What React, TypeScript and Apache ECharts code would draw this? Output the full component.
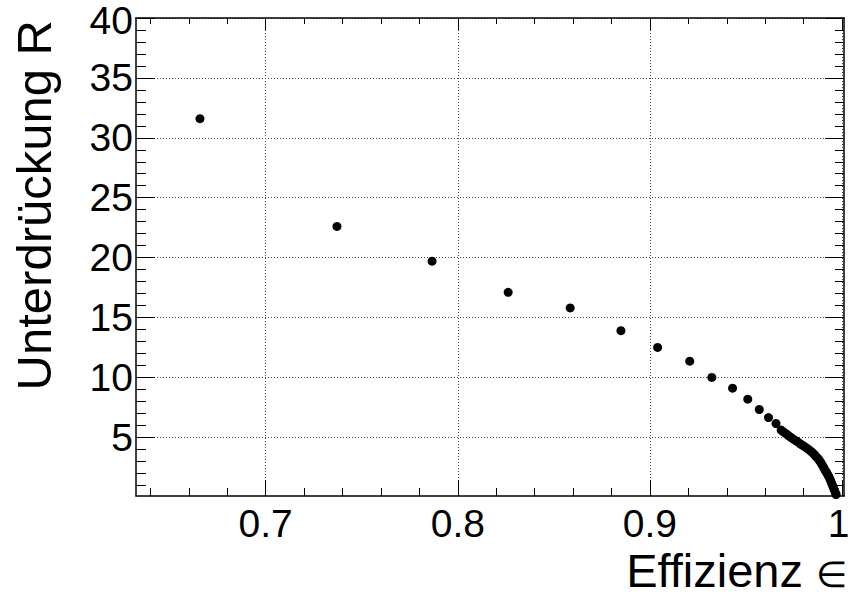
import React, { useEffect, useRef } from "react";
import * as echarts from "echarts";

// Efficiency (x) and suppression (y) values
const efficiency: number[] = [
  0.6658, 0.7371, 0.7866, 0.8262, 0.8585, 0.8849, 0.904, 0.9207, 0.9322, 0.943,
  0.9509, 0.9569, 0.9617, 0.9656, 0.9683, 0.9695, 0.9708, 0.972, 0.9733, 0.9746,
  0.9759, 0.9771, 0.9783, 0.9795, 0.9807, 0.9818, 0.9829, 0.984, 0.985, 0.9859,
  0.9867, 0.9875, 0.9883, 0.989, 0.9897, 0.9904, 0.9911, 0.9918, 0.9924, 0.993,
  0.9936, 0.9941, 0.9946, 0.9951, 0.9956, 0.9961, 0.9965, 0.9969,
];
const suppression: number[] = [
  31.6, 22.6, 19.7, 17.1, 15.8, 13.9, 12.5, 11.35, 10.0, 9.1,
  8.18, 7.32, 6.65, 6.15, 5.6, 5.45, 5.3, 5.15, 5.0, 4.85,
  4.72, 4.6, 4.45, 4.32, 4.2, 4.08, 3.95, 3.8, 3.65, 3.5,
  3.35, 3.22, 3.05, 2.88, 2.68, 2.48, 2.28, 2.1, 1.92, 1.75,
  1.55, 1.35, 1.15, 0.95, 0.75, 0.55, 0.38, 0.22,
];

const xMajorTicks: number[] = [0.7, 0.8, 0.9, 1];
const xMinorTicks: number[] = [
  0.64, 0.66, 0.68, 0.72, 0.74, 0.76, 0.78, 0.82, 0.84, 0.86, 0.88, 0.92, 0.94, 0.96, 0.98,
];
const yMajorTicks: number[] = [5, 10, 15, 20, 25, 30, 35, 40];
const yMinorTicks: number[] = [
  1, 2, 3, 4, 6, 7, 8, 9, 11, 12, 13, 14, 16, 17, 18, 19, 21, 22, 23, 24,
  26, 27, 28, 29, 31, 32, 33, 34, 36, 37, 38, 39,
];

const X_MIN = 0.6325;
const X_MAX = 1.001;
const Y_MIN = 0.1;
const Y_MAX = 40;

const xTitleWord = "Effizienz ";
const xTitleSymbol = "∈";
const yTitle = "Unterdrückung R";

const FONT = "Liberation Sans, Arial, Helvetica, sans-serif";

export default function App() {
  const ref = useRef<HTMLDivElement>(null);

  useEffect(() => {
    if (!ref.current) return;
    const chart = echarts.init(ref.current, null, { renderer: "svg" });

    const lineStyle = { color: "#000", width: 1.5 };
    const splitStyle = { color: "#444", width: 1, type: [1, 2] as number[] };

    const mkX = (pos: "bottom" | "top", ticks: number[], len: number, main: boolean, labels: boolean) => ({
      type: "value",
      position: pos,
      min: X_MIN,
      max: X_MAX,
      splitNumber: 4,
      axisLine: { show: main, lineStyle, onZero: false },
      axisTick: { show: true, inside: true, length: len, customValues: ticks, lineStyle: { color: "#000", width: 1 } },
      axisLabel: labels
        ? {
            show: true,
            customValues: xMajorTicks,
            color: "#000",
            fontFamily: FONT,
            fontSize: 39,
            lineHeight: 34,
            margin: 10,
            formatter: (v: number) => (v === 1 ? "{edge|1}" : String(v)),
            rich: {
              edge: { fontFamily: FONT, fontSize: 39, lineHeight: 34, color: "#000", padding: [0, 7, 0, 0] },
            },
          }
        : { show: false },
      splitLine: main && labels ? { show: true, lineStyle: splitStyle } : { show: false },
    });

    const mkY = (pos: "left" | "right", ticks: number[], len: number, main: boolean, labels: boolean) => ({
      type: "value",
      position: pos,
      min: Y_MIN,
      max: Y_MAX,
      axisLine: { show: main, lineStyle, onZero: false },
      axisTick: { show: true, inside: true, length: len, customValues: ticks, lineStyle: { color: "#000", width: 1 } },
      axisLabel: labels
        ? {
            show: true,
            customValues: yMajorTicks,
            color: "#000",
            fontFamily: FONT,
            fontSize: 39,
            lineHeight: 30,
            margin: 3,
            formatter: (v: number) => (v === 40 ? "{edge|40}" : String(v)),
            rich: {
              edge: { fontFamily: FONT, fontSize: 39, lineHeight: 30, color: "#000", padding: [5, 0, 0, 0] },
            },
          }
        : { show: false },
      splitLine: main && labels ? { show: true, lineStyle: splitStyle } : { show: false },
    });

    const data = efficiency.map((x, i) => [x, suppression[i]]);

    chart.setOption({
      animation: false,
      backgroundColor: "#fff",
      grid: { left: 136, top: 18, width: 708, height: 478, containLabel: false, outerBoundsMode: "none" },
      xAxis: [
        mkX("bottom", xMajorTicks, 16, true, true),
        mkX("bottom", xMinorTicks, 8, false, false),
        mkX("top", xMajorTicks, 12, true, false),
        mkX("top", xMinorTicks, 6, false, false),
      ],
      yAxis: [
        mkY("left", yMajorTicks, 19, true, true),
        mkY("left", yMinorTicks, 10, false, false),
        mkY("right", yMajorTicks, 19, true, false),
        mkY("right", yMinorTicks, 9, false, false),
      ],
      series: [
        {
          type: "scatter",
          xAxisIndex: 0,
          yAxisIndex: 0,
          data,
          symbol: "circle",
          symbolSize: 9,
          itemStyle: { color: "#000", opacity: 1 },
        },
      ],
      graphic: [
        {
          type: "text",
          x: 847,
          y: 570,
          style: {
            text: `{a|${xTitleWord}}{b|${xTitleSymbol}}`,
            fill: "#000",
            align: "right",
            verticalAlign: "middle",
            rich: {
              a: { fontFamily: FONT, fontSize: 47, lineHeight: 44, fill: "#000" },
              b: { fontFamily: FONT, fontSize: 36, lineHeight: 38, fill: "#000", verticalAlign: "bottom" },
            },
          },
        },
        {
          type: "text",
          x: 34,
          y: 20,
          rotation: Math.PI / 2,
          style: {
            text: yTitle,
            fill: "#000",
            fontFamily: FONT,
            fontSize: 49,
            lineHeight: 44,
            align: "right",
            verticalAlign: "middle",
          },
        },
      ],
    });

    return () => chart.dispose();
  }, []);

  return (
    <div
      ref={ref}
      style={{ position: "fixed", left: 0, top: 0, width: 851, height: 596, background: "#fff" }}
    />
  );
}
